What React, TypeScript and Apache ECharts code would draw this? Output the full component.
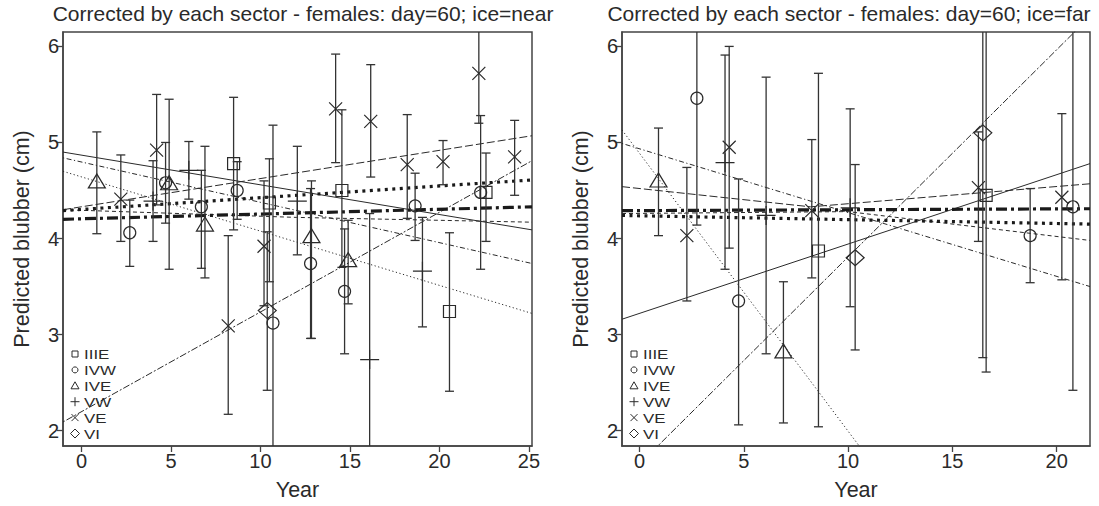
import React, { useEffect, useRef } from "react";
import * as echarts from "echarts";

const FONT = "'Liberation Sans', Arial, Helvetica, sans-serif";
const INK = "#2a2a2a";

const SECTORS = ["IIIE", "IVW", "IVE", "VW", "VE", "VI"];
const TITLE_NEAR = "Corrected by each sector - females: day=60; ice=near";
const TITLE_FAR = "Corrected by each sector - females: day=60; ice=far";
const Y_NAME = "Predicted blubber (cm)";
const X_NAME = "Year";
const X_TICKS_NEAR = [0, 5, 10, 15, 20, 25];
const X_TICKS_FAR = [0, 5, 10, 15, 20];
const Y_TICKS = [2, 3, 4, 5, 6];
const X_RANGE_NEAR = [-1.03, 25.17];
const X_RANGE_FAR = [-0.84, 21.6];
const Y_RANGE = [1.84, 6.15];

// points: [year, predicted, lower, upper]
const NEAR_IIIE = [[8.5, 4.78, 4.09, 5.47], [10.5, 4.37, 3.55, 4.83], [14.55, 4.5, 3.7, 5.34], [20.56, 3.24, 2.41, 4.06], [22.6, 4.48, 3.97, 4.89]];
const NEAR_IVW = [[2.7, 4.06, 3.71, 4.4], [4.7, 4.58, 4.16, 5.0], [6.7, 4.33, 3.69, 4.71], [8.7, 4.5, 4.2, 4.8], [10.7, 3.12, 1.5, 5.18], [12.8, 3.74, 2.96, 4.52], [14.7, 3.45, 2.8, 4.1], [18.64, 4.34, 3.98, 4.68], [22.3, 4.48, 3.68, 5.28]];
const NEAR_IVE = [[0.86, 4.6, 4.05, 5.11], [4.9, 4.58, 3.68, 5.45], [6.9, 4.15, 3.59, 4.96], [12.85, 4.03, 2.96, 4.6], [14.9, 3.78, 3.32, 4.19]];
const NEAR_VW = [[4.0, 4.39, 3.97, 4.81], [6.0, 4.71, 4.41, 5.01], [12.06, 4.39, 3.83, 4.96], [16.1, 2.74, 1.0, 4.26], [19.05, 3.66, 3.08, 4.22]];
const NEAR_VE = [[2.2, 4.41, 3.97, 4.87], [4.2, 4.92, 4.35, 5.5], [8.2, 3.09, 2.17, 4.03], [10.2, 3.92, 3.3, 4.6], [14.2, 5.35, 4.79, 5.92], [16.16, 5.22, 4.64, 5.81], [18.2, 4.77, 4.21, 5.29], [20.2, 4.8, 4.56, 5.02], [22.2, 5.72, 5.2, 6.5], [24.2, 4.85, 4.45, 5.23]];
const NEAR_VI = [[10.38, 3.25, 2.42, 4.07]];

const FAR_IIIE = [[8.58, 3.87, 2.04, 5.72], [16.62, 4.45, 2.61, 6.5]];
const FAR_IVW = [[2.75, 5.46, 4.14, 6.5], [4.75, 3.35, 2.06, 4.62], [18.73, 4.03, 3.54, 4.52], [20.78, 4.33, 2.42, 6.5]];
const FAR_IVE = [[0.91, 4.61, 4.03, 5.15], [6.9, 2.83, 2.08, 3.55]];
const FAR_VW = [[4.1, 4.79, 3.68, 5.91], [6.07, 4.24, 2.8, 5.68], [10.1, 4.32, 3.29, 5.35]];
const FAR_VE = [[2.27, 4.03, 3.35, 4.74], [4.3, 4.95, 3.9, 6.0], [8.26, 4.29, 3.59, 5.03], [16.25, 4.53, 3.97, 5.11], [20.25, 4.43, 3.57, 5.3]];
const FAR_VI = [[10.34, 3.8, 2.84, 4.77], [16.46, 5.1, 2.76, 6.5]];

// fitted lines: [year, predicted]
const NEAR_FIT_IIIE = [[-1.03, 4.9], [25.17, 4.09]];
const NEAR_FIT_IVW = [[-1.03, 4.3], [12, 4.22], [25.17, 4.17]];
const NEAR_FIT_IVE = [[-1.03, 4.7], [25.17, 3.22]];
const NEAR_FIT_VW = [[-1.03, 4.84], [25.17, 3.74]];
const NEAR_FIT_VE = [[-1.03, 4.3], [25.17, 5.07]];
const NEAR_FIT_VI = [[-1.03, 2.09], [25.17, 4.81]];
const NEAR_FIT_ALL_A = [[-1.03, 4.29], [25.17, 4.61]];
const NEAR_FIT_ALL_B = [[-1.03, 4.2], [25.17, 4.33]];

const FAR_FIT_IIIE = [[-0.84, 3.16], [21.6, 4.78]];
const FAR_FIT_IVW = [[-0.84, 4.26], [10, 4.28], [21.6, 3.98]];
const FAR_FIT_IVE = [[-0.84, 5.13], [10.5, 1.85], [11, 1.7]];
const FAR_FIT_VW = [[-0.84, 4.99], [21.6, 3.5]];
const FAR_FIT_VE = [[-0.84, 4.54], [8.2, 4.33], [21.6, 4.57]];
const FAR_FIT_VI = [[-0.84, 1.47], [21.6, 6.31]];
const FAR_FIT_ALL_A = [[-0.84, 4.24], [21.6, 4.15]];
const FAR_FIT_ALL_B = [[-0.84, 4.29], [21.6, 4.31]];

const PANELS = [
  {
    title: TITLE_NEAR, xTicks: X_TICKS_NEAR, xRange: X_RANGE_NEAR,
    points: [NEAR_IIIE, NEAR_IVW, NEAR_IVE, NEAR_VW, NEAR_VE, NEAR_VI],
    fits: [NEAR_FIT_IIIE, NEAR_FIT_IVW, NEAR_FIT_IVE, NEAR_FIT_VW, NEAR_FIT_VE, NEAR_FIT_VI],
    allA: NEAR_FIT_ALL_A, allB: NEAR_FIT_ALL_B,
  },
  {
    title: TITLE_FAR, xTicks: X_TICKS_FAR, xRange: X_RANGE_FAR,
    points: [FAR_IIIE, FAR_IVW, FAR_IVE, FAR_VW, FAR_VE, FAR_VI],
    fits: [FAR_FIT_IIIE, FAR_FIT_IVW, FAR_FIT_IVE, FAR_FIT_VW, FAR_FIT_VE, FAR_FIT_VI],
    allA: FAR_FIT_ALL_A, allB: FAR_FIT_ALL_B,
  },
];

const GRIDS = [
  { left: 63, top: 32, width: 469, height: 419, titleX: 303 },
  { left: 622, top: 32, width: 468, height: 419, titleX: 849 },
];

const SYMBOLS = [
  { symbol: "rect", size: 12 },
  { symbol: "circle", size: 12 },
  { symbol: "triangle", size: [17, 14] },
  { symbol: "path://M0,10L20,10M10,0L10,20", size: 19 },
  { symbol: "path://M0,0L20,20M20,0L0,20", size: 13 },
  { symbol: "diamond", size: [18, 16] },
];

const LINE_TYPES: any[] = [
  "solid",
  [4, 3],
  [1.2, 2.5],
  [1.2, 2.5, 5, 2.5],
  [8, 3],
  [2, 2, 7, 2],
];

function legendGraphic(x0: number, y0: number) {
  const children: any[] = [];
  const st = { fill: "none", stroke: INK, lineWidth: 1 };
  SECTORS.forEach((name, i) => {
    const y = y0 + i * 15.9;
    const cx = x0;
    let shape: any[] = [];
    if (i === 0) shape = [{ type: "rect", shape: { x: cx - 3, y: y - 3, width: 6, height: 6 }, style: st }];
    if (i === 1) shape = [{ type: "circle", shape: { cx, cy: y, r: 3 }, style: st }];
    if (i === 2) shape = [{ type: "polygon", shape: { points: [[cx, y - 4], [cx + 4, y + 3], [cx - 4, y + 3]] }, style: st }];
    if (i === 3) shape = [
      { type: "line", shape: { x1: cx - 4.5, y1: y, x2: cx + 4.5, y2: y }, style: st },
      { type: "line", shape: { x1: cx, y1: y - 4.5, x2: cx, y2: y + 4.5 }, style: st },
    ];
    if (i === 4) shape = [
      { type: "line", shape: { x1: cx - 3.5, y1: y - 3.5, x2: cx + 3.5, y2: y + 3.5 }, style: st },
      { type: "line", shape: { x1: cx - 3.5, y1: y + 3.5, x2: cx + 3.5, y2: y - 3.5 }, style: st },
    ];
    if (i === 5) shape = [{ type: "polygon", shape: { points: [[cx, y - 4.5], [cx + 4.5, y], [cx, y + 4.5], [cx - 4.5, y]] }, style: st }];
    children.push(...shape);
    children.push({
      type: "text", x: cx + 9, y: y + 0.5, scaleX: 1.3,
      style: { text: name, fontSize: 13, fontFamily: FONT, fill: INK, verticalAlign: "middle", align: "left" },
    });
  });
  return children;
}

export default function App() {
  const ref = useRef<HTMLDivElement>(null);
  useEffect(() => {
    document.body.style.margin = "0";
    document.body.style.overflow = "hidden";
    if (!ref.current) return;
    const chart = echarts.init(ref.current, null, { renderer: "svg" });
    const [ymin, ymax] = Y_RANGE;

    const series: any[] = [];
    PANELS.forEach((panel, p) => {
      panel.fits.forEach((fit, s) => {
        series.push({
          type: "line", xAxisIndex: p, yAxisIndex: p, data: fit, symbol: "none", silent: true, z: 1,
          lineStyle: { color: INK, width: 1, type: LINE_TYPES[s] },
        });
      });
      series.push({
        type: "line", xAxisIndex: p, yAxisIndex: p, data: panel.allA, symbol: "none", silent: true, z: 1,
        lineStyle: { color: "#1a1a1a", width: 3.2, type: [3, 4.5] },
      });
      series.push({
        type: "line", xAxisIndex: p, yAxisIndex: p, data: panel.allB, symbol: "none", silent: true, z: 1,
        lineStyle: { color: "#1a1a1a", width: 3.2, type: [11, 4, 3, 4] },
      });
      const all: number[][] = [];
      panel.points.forEach((pts) => pts.forEach((d) => all.push([d[0], d[2], d[3]])));
      series.push({
        type: "custom", xAxisIndex: p, yAxisIndex: p, silent: true, z: 2,
        data: all, encode: { x: 0, y: [1, 2] },
        renderItem: (_params: any, api: any) => {
          const x = api.value(0), lo = api.value(1), hi = api.value(2);
          const loC = Math.max(lo, ymin), hiC = Math.min(hi, ymax);
          const a = api.coord([x, hiC]);
          const b = api.coord([x, loC]);
          const st = { stroke: "#333", lineWidth: 1.3 };
          const ch: any[] = [{ type: "line", shape: { x1: a[0], y1: a[1], x2: b[0], y2: b[1] }, style: st }];
          if (hi <= ymax) ch.push({ type: "line", shape: { x1: a[0] - 4.5, y1: a[1], x2: a[0] + 4.5, y2: a[1] }, style: st });
          if (lo >= ymin) ch.push({ type: "line", shape: { x1: b[0] - 4.5, y1: b[1], x2: b[0] + 4.5, y2: b[1] }, style: st });
          return { type: "group", children: ch };
        },
      });
      panel.points.forEach((pts, s) => {
        series.push({
          type: "scatter", name: SECTORS[s], xAxisIndex: p, yAxisIndex: p, z: 3, silent: true,
          data: pts.map((d) => [d[0], d[1]]),
          symbol: SYMBOLS[s].symbol, symbolSize: SYMBOLS[s].size,
          itemStyle: { color: "rgba(255,255,255,0)", borderColor: INK, borderWidth: 1.2, opacity: 1 },
        });
      });
    });

    const axisText = { fontSize: 20, color: INK, fontFamily: FONT };
    const nameText = { fontSize: 21.5, color: INK, fontFamily: FONT };

    chart.setOption({
      animation: false,
      backgroundColor: "#ffffff",
      textStyle: { fontFamily: FONT },
      title: PANELS.map((panel, p) => ({
        text: panel.title, left: GRIDS[p].titleX, top: 3, textAlign: "center", padding: 0,
        textStyle: { fontSize: 21, fontWeight: "normal", color: INK, fontFamily: FONT },
      })),
      grid: GRIDS.map((g) => ({
        left: g.left, top: g.top, width: g.width, height: g.height,
        show: true, borderColor: "#444", borderWidth: 1.5, containLabel: false,
      })),
      xAxis: PANELS.map((panel, p) => ({
        type: "value", gridIndex: p, min: panel.xRange[0], max: panel.xRange[1],
        axisLine: { show: true, onZero: false, lineStyle: { color: "#444", width: 1.5 } },
        axisTick: { show: true, length: 6, customValues: panel.xTicks, lineStyle: { color: "#444", width: 1.3 } },
        axisLabel: { customValues: panel.xTicks, margin: 5, ...axisText },
        splitLine: { show: false },
        name: X_NAME, nameLocation: "middle", nameGap: 33, nameTextStyle: nameText,
      })),
      yAxis: PANELS.map((_panel, p) => ({
        type: "value", gridIndex: p, min: Y_RANGE[0], max: Y_RANGE[1],
        axisLine: { show: true, onZero: false, lineStyle: { color: "#444", width: 1.5 } },
        axisTick: { show: true, length: 6, customValues: Y_TICKS, lineStyle: { color: "#444", width: 1.3 } },
        axisLabel: { customValues: Y_TICKS, margin: 4, ...axisText },
        splitLine: { show: false },
        name: Y_NAME, nameLocation: "middle", nameGap: 30, nameTextStyle: nameText,
      })),
      graphic: [
        { type: "group", children: legendGraphic(75, 354) },
        { type: "group", children: legendGraphic(634, 354) },
      ],
      series,
    });
    return () => chart.dispose();
  }, []);
  return <div ref={ref} style={{ width: 1099, height: 506, overflow: "hidden" }} />;
}
